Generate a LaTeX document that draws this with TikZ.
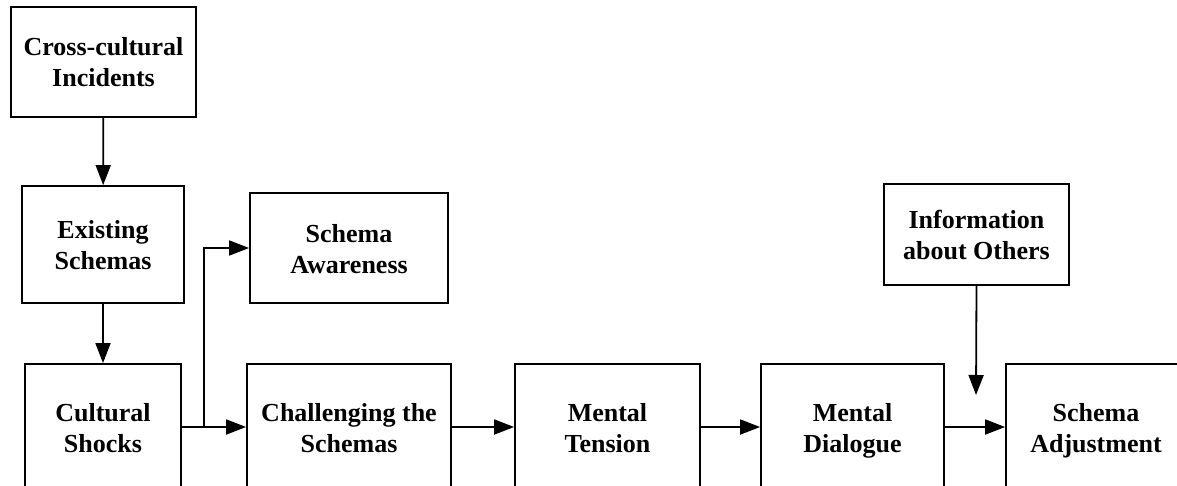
\documentclass[tikz,border=0pt]{standalone}
\usepackage{fontspec}
\setmainfont{Liberation Serif}
\usetikzlibrary{arrows.meta}
\begin{document}
\begin{tikzpicture}[x=1pt,y=-1pt,
  box/.style={draw, line width=1.8pt, align=center, inner sep=0pt,
    font=\bfseries\fontsize{26}{31}\selectfont,
    text height=50pt, text depth=0pt},
  conn/.style={line width=1.8pt, -{Triangle[length=20pt,width=15pt]}}]
\useasboundingbox (0,0) rectangle (1177,486);
\clip (0,0) rectangle (1177,486);
\node[box, minimum width=185pt, minimum height=110pt] (cci) at (103.5,62) {Cross-cultural\\Incidents};
\node[box, minimum width=162pt, minimum height=117pt] (es) at (103,244.5) {Existing\\Schemas};
\node[box, minimum width=198pt, minimum height=110pt] (sa) at (349,248) {Schema\\Awareness};
\node[box, minimum width=185pt, minimum height=101pt] (info) at (976.5,234.5) {Information\\about Others};
\node[box, minimum width=156pt, minimum height=126pt] (cs) at (103,427) {Cultural\\Shocks};
\node[box, minimum width=204pt, minimum height=126pt] (ch) at (349,427) {Challenging the\\Schemas};
\node[box, minimum width=185pt, minimum height=126pt] (mt) at (607.5,427) {Mental\\Tension};
\node[box, minimum width=183pt, minimum height=126pt] (md) at (852.5,427) {Mental\\Dialogue};
\node[box, minimum width=180pt, minimum height=126pt] (adj) at (1096,427) {Schema\\Adjustment};
\coordinate (br) at (204,427);
\coordinate (infoend) at (976,395);
\draw[conn] (cci) -- (es);
\draw[conn] (es) -- (cs);
\draw[conn] (cs) -- (ch);
\draw[conn] (br) |- (sa.west);
\draw[conn] (ch) -- (mt);
\draw[conn] (mt) -- (md);
\draw[conn] (md) -- (adj);
\draw[conn] (info.south) -- (infoend);
\end{tikzpicture}
\end{document}
